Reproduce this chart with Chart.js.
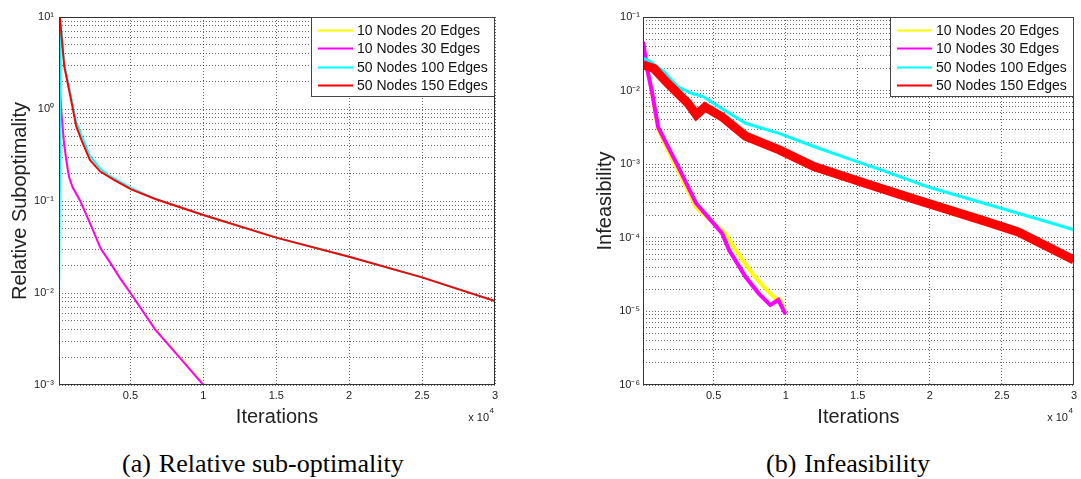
<!DOCTYPE html>
<html>
<head>
<meta charset="utf-8">
<script src="https://cdn.jsdelivr.net/npm/chart.js@4.4.0/dist/chart.umd.min.js"></script>
<style>
  body { margin: 0; background: #fff; width: 1081px; height: 479px; position: relative; overflow: hidden; }
  canvas { position: absolute; top: 0; }
  #subopt { left: 0; }
  #infeas { left: 540px; }
  .cap { position: absolute; top: 449px; line-height: 30px; font-family: "Liberation Serif", "Times New Roman", serif; font-size: 26px; color: #000; white-space: nowrap; }
  .cap span { margin-right: 8px; }
</style>
</head>
<body>
<canvas id="subopt" width="540" height="440"></canvas>
<canvas id="infeas" width="541" height="440"></canvas>
<div class="cap" style="left:122px"><span>(a)</span>Relative sub-optimality</div>
<div class="cap" style="left:766px"><span>(b)</span>Infeasibility</div>
<script>
// legend labels / colours (same four runs in both panels)
const seriesLabels = ['10 Nodes 20 Edges', '10 Nodes 30 Edges', '50 Nodes 100 Edges', '50 Nodes 150 Edges'];
const seriesColors = ['#ffff00', '#ff00ff', '#00ffff', '#ff0000'];
const xTickValues = [5000, 10000, 15000, 20000, 25000, 30000];

// (a) relative suboptimality
const subDecades = [-3, -2, -1, 0, 1];
const subIter20 = [100, 250, 340, 450, 574, 700, 800, 1040, 1530, 2230, 2950, 3640, 4280, 5000, 6700, 8360, 10000];
const subVal20  = [2.5, 1.02, 0.66, 0.43, 0.31, 0.225, 0.184, 0.143, 0.104, 0.058, 0.031, 0.0213, 0.0147, 0.0101, 0.0041, 0.00205, 0.00102];
const subIter30 = [100, 250, 340, 450, 574, 700, 800, 1040, 1530, 2230, 2950, 3640, 4280, 5000, 6700, 8360, 10000];
const subVal30  = [2.4, 1.0, 0.65, 0.42, 0.30, 0.22, 0.18, 0.14, 0.102, 0.057, 0.0306, 0.021, 0.0145, 0.0100, 0.0040, 0.0020, 0.0010];
const subIter100 = [100, 230, 460, 930, 1280, 1640, 2220, 2930, 3500, 3870, 5050, 6700, 10000, 15000, 20000, 25000, 30000];
const subVal100  = [0.0074, 8.5, 3.1, 1.35, 0.72, 0.52, 0.31, 0.225, 0.19, 0.176, 0.138, 0.106, 0.0705, 0.040, 0.0248, 0.0148, 0.0082];
const subIter150 = [100, 180, 460, 930, 1280, 1640, 2220, 2930, 3870, 5050, 6700, 10000, 15000, 20000, 25000, 30000];
const subVal150  = [8.0, 9.1, 2.9, 1.25, 0.65, 0.46, 0.28, 0.209, 0.17, 0.134, 0.105, 0.0705, 0.040, 0.0248, 0.0148, 0.0082];

// (b) infeasibility
const infDecades = [-6, -5, -4, -3, -2, -1];
const infIter20 = [120, 354, 697, 1150, 1610, 2410, 3320, 3780, 5800, 6530, 7660, 8580, 9270, 9610, 9910];
const infVal20  = [0.040, 0.021, 0.0100, 0.0030, 0.0019, 0.00092, 0.00040, 0.00026, 0.000115, 6.8e-5, 3.3e-5, 2.06e-5, 1.51e-5, 1.46e-5, 1.05e-5];
const infIter30 = [120, 354, 697, 1150, 1610, 2410, 3320, 3780, 5590, 6070, 7210, 8120, 8930, 9490, 9990];
const infVal30  = [0.046, 0.021, 0.0102, 0.0032, 0.0021, 0.00104, 0.00045, 0.000295, 0.000115, 6.8e-5, 2.95e-5, 1.76e-5, 1.22e-5, 1.43e-5, 9.2e-6];
const infIter100 = [120, 620, 1570, 2500, 3460, 4280, 5340, 7230, 9590, 11960, 14300, 16670, 19900, 23760, 27320, 30000];
const infVal100  = [0.0275, 0.0247, 0.018, 0.0113, 0.0092, 0.0083, 0.0061, 0.0036, 0.0026, 0.00174, 0.0012, 0.00083, 0.00049, 0.000295, 0.000184, 0.000128];
const infIter150 = [120, 850, 1800, 3220, 3800, 4400, 5580, 7230, 9590, 11960, 15500, 19040, 23760, 26130, 30000];
const infVal150  = [0.0223, 0.020, 0.0126, 0.0067, 0.0047, 0.0060, 0.0044, 0.0024, 0.00155, 0.00093, 0.00055, 0.00033, 0.00017, 0.00012, 5.0e-5];

const sup = {'-': '\u207B', '0': '\u2070', '1': '\u00B9', '2': '\u00B2', '3': '\u00B3', '4': '\u2074', '5': '\u2075', '6': '\u2076'};
function decadeLabel(v) {
  const e = Math.log10(v);
  if (Math.abs(e - Math.round(e)) > 1e-6) return '';
  return '10' + String(Math.round(e)).split('').map(c => sup[c]).join('');
}

function pts(xs, ys) {
  return xs.map((x, i) => ({x: x, y: ys[i]}));
}

// matlab style box, legend and the "x 10^4" multiplier
const matlabBits = {
  id: 'matlabBits',
  afterDatasetsDraw(chart) {
    const ctx = chart.ctx, a = chart.chartArea;
    ctx.save();
    ctx.strokeStyle = '#333';
    ctx.lineWidth = 1;
    ctx.strokeRect(a.left + 0.5, a.top + 0.5, a.right - a.left - 1, a.bottom - a.top - 1);

    const w = 183, h = 79;
    const lx = Math.round(a.right - 1 - w), ly = a.top;
    ctx.fillStyle = '#fff';
    ctx.fillRect(lx, ly, w, h);
    ctx.strokeStyle = '#444';
    ctx.strokeRect(lx + 0.5, ly + 0.5, w, h);
    ctx.font = '14px "Liberation Sans", Arial, sans-serif';
    ctx.textBaseline = 'middle';
    chart.data.datasets.forEach((ds, i) => {
      const y = Math.round(ly + 13 + i * 18.4) + 0.5;
      ctx.strokeStyle = ds.borderColor;
      ctx.lineWidth = 2;
      ctx.beginPath();
      ctx.moveTo(lx + 7, y);
      ctx.lineTo(lx + 42, y);
      ctx.stroke();
      ctx.fillStyle = '#111';
      ctx.fillText(ds.label, lx + 46, y + 1);
    });

    ctx.fillStyle = '#222';
    ctx.textAlign = 'right';
    ctx.font = '11px "Liberation Sans", Arial, sans-serif';
    ctx.fillText('x 10', a.right - 6, 418);
    ctx.font = '8px "Liberation Sans", Arial, sans-serif';
    ctx.fillText('4', a.right - 1, 411);
    ctx.restore();
  }
};

function makeChart(id, datasets, decades, yTitle, pad, yWidth, titlePad, tickPad) {
  const yTicks = [];
  for (let i = 0; i < decades.length; i++) {
    const base = Math.pow(10, decades[i]);
    if (i === decades.length - 1) { yTicks.push(base); break; }
    for (let k = 1; k <= 9; k++) yTicks.push(k * base);
  }
  return new Chart(document.getElementById(id), {
    type: 'line',
    data: { datasets: datasets },
    options: {
      responsive: false,
      animation: false,
      layout: { padding: pad },
      elements: { point: { radius: 0 }, line: { tension: 0 } },
      plugins: { legend: { display: false }, tooltip: { enabled: false } },
      scales: {
        x: {
          type: 'linear',
          min: 100,
          max: 30000,
          afterBuildTicks: s => { s.ticks = xTickValues.map(v => ({value: v})); },
          afterFit: s => { s.height = 55; },
          ticks: {
            autoSkip: false, maxRotation: 0, padding: 4, color: '#222',
            font: { family: '"Liberation Sans", Arial, sans-serif', size: 11 },
            callback: v => String(v / 10000)
          },
          grid: { color: 'rgba(0,0,0,0.6)', lineWidth: 1, drawTicks: false },
          border: { display: false, dash: [1, 2] },
          title: {
            display: true, text: 'Iterations', color: '#222',
            font: { family: '"Liberation Sans", Arial, sans-serif', size: 20 },
            padding: { top: 0, bottom: 11 }
          }
        },
        y: {
          type: 'logarithmic',
          min: yTicks[0],
          max: yTicks[yTicks.length - 1],
          afterBuildTicks: s => { s.ticks = yTicks.map(v => ({value: v, major: decadeLabel(v) !== ''})); },
          afterFit: s => { s.width = yWidth; },
          ticks: {
            autoSkip: false, padding: tickPad, color: '#222',
            font: { family: '"Liberation Sans", Arial, sans-serif', size: 11 },
            callback: v => decadeLabel(v)
          },
          grid: { color: 'rgba(0,0,0,0.6)', lineWidth: 1, drawTicks: false },
          border: { display: false, dash: [1, 2] },
          title: {
            display: true, text: yTitle, color: '#222',
            font: { family: '"Liberation Sans", Arial, sans-serif', size: 20 },
            padding: { top: titlePad, bottom: 0 }
          }
        }
      }
    },
    plugins: [matlabBits]
  });
}

const widthsA = [2, 2, 2, 2];
const widthsB = [4, 4, 3, 9];
const subSets = [[subIter20, subVal20], [subIter30, subVal30], [subIter100, subVal100], [subIter150, subVal150]];
const infSets = [[infIter20, infVal20], [infIter30, infVal30], [infIter100, infVal100], [infIter150, infVal150]];

makeChart('subopt', subSets.map((s, i) => ({
  label: seriesLabels[i], data: pts(s[0], s[1]), borderColor: seriesColors[i],
  borderWidth: widthsA[i], fill: false, order: 4 - i
})), subDecades, 'Relative Suboptimality', {left: 0, top: 17, right: 45, bottom: 0}, 59, 8, 5);

makeChart('infeas', infSets.map((s, i) => ({
  label: seriesLabels[i], data: pts(s[0], s[1]), borderColor: seriesColors[i],
  borderWidth: widthsB[i], fill: false, order: 4 - i
})), infDecades, 'Infeasibility', {left: 0, top: 17, right: 2, bottom: 0}, 103, 53, 3);
</script>
</body>
</html>
